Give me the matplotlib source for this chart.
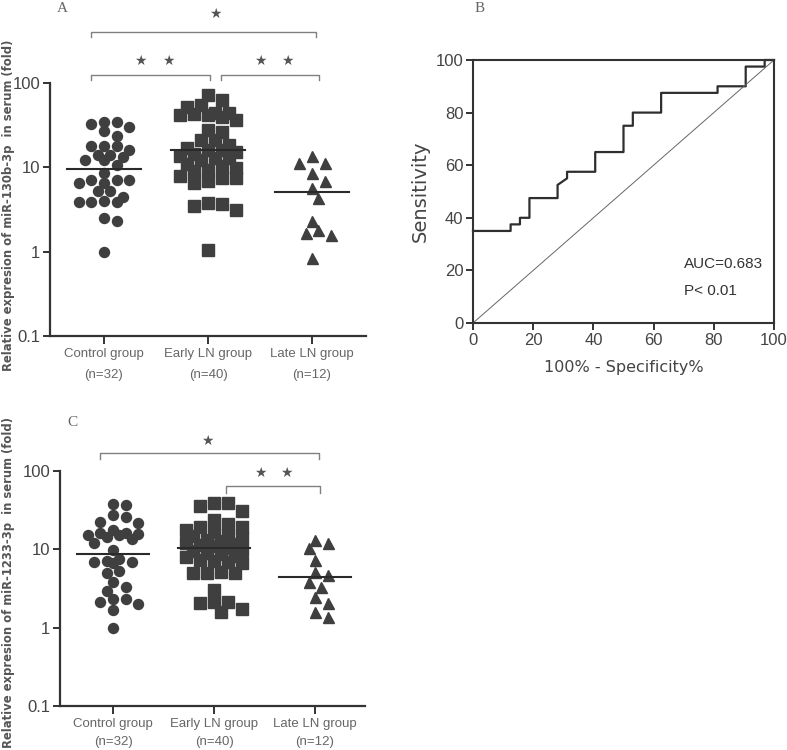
import numpy as np
import matplotlib
matplotlib.use('Agg')
import matplotlib.pyplot as plt
from matplotlib import font_manager
from matplotlib.transforms import blended_transform_factory

# ---- data ----
groups = ['Control group', 'Early LN group', 'Late LN group']
group_n = ['(n=32)', '(n=40)', '(n=12)']

ctrl_130b = [34.7, 34.7, 32.9, 30.3, 26.7, 23.7, 17.7, 17.7, 17.7, 16.2, 14.1, 14.1,
             13.2, 12.3, 12.3, 10.7, 8.5, 7.1, 7.1, 7.1, 6.5, 6.5, 5.2, 5.2,
             4.5, 4.0, 3.9, 3.9, 3.9, 2.5, 2.3, 1.0]
early_130b = [72.6, 63.4, 55.3, 52, 44, 44, 43, 42, 42, 40, 36.7, 27.9, 26.5, 21.3,
              21, 18.5, 17, 16.2, 16, 15, 14.4, 13.5, 13, 13, 12.3, 11, 10.3, 9.8,
              9.4, 9.0, 7.8, 7.5, 7.5, 6.8, 6.5, 3.8, 3.7, 3.5, 3.1, 1.05]
late_130b = [13.5, 11.4, 11.4, 8.5, 6.8, 5.7, 4.3, 2.3, 1.82, 1.66, 1.58, 0.84]
line_130b = [9.5, 16.0, 5.1]

ctrl_1233 = [38.3, 37.0, 27.2, 25.9, 22.4, 21.7, 17.5, 16.2, 16.0, 15.9, 15.1, 15.1,
             14.4, 13.7, 11.9, 9.75, 7.6, 7.2, 6.9, 6.9, 6.7, 5.3, 5.0, 3.85,
             3.3, 2.95, 2.35, 2.29, 2.1, 2.0, 1.67, 0.98]
early_1233 = [39.1, 39.1, 35.8, 30.6, 23.5, 21.3, 19.3, 19.3,
              17.5, 16.8, 15.2, 14.9, 13.8, 13.1, 12.9, 12.2, 11.6, 11.3, 10.9,
              10.4, 9.8, 9.6, 9.1, 8.7, 8.2, 7.9, 7.4, 7.1, 6.9, 6.6,
              5.2, 5.0, 5.0, 5.0, 3.07, 2.14, 2.1, 2.04, 1.75, 1.58]
late_1233 = [13.3, 11.9, 10.4, 7.4, 5.15, 4.7, 3.8, 3.26, 2.47, 2.07, 1.59, 1.35]
line_1233 = [8.8, 10.5, 4.4]

# ROC (100% - specificity, sensitivity)
roc_x = [0, 12.5, 12.5, 15.6, 15.6, 18.75, 18.75, 28.1, 28.1, 31.25, 31.25, 40.6, 40.6,
         50, 50, 53.1, 53.1, 62.5, 62.5, 81.25, 81.25, 90.6, 90.6, 96.9, 96.9, 100]
roc_y = [35, 35, 37.5, 37.5, 40, 40, 47.5, 47.5, 52.5, 55, 57.5, 57.5, 65,
         65, 75, 75, 80, 80, 87.5, 87.5, 90, 90, 97.5, 97.5, 100, 100]
auc_text = 'AUC=0.683'
p_text = 'P< 0.01'

# ---- style ----
names = {f.name for f in font_manager.fontManager.ttflist}
narrow = 'Liberation Sans Narrow' if 'Liberation Sans Narrow' in names else 'Liberation Sans'
mk_col = '#3f3f3f'
ax_col = '#333333'
br_col = '#808080'

fig = plt.figure(figsize=(7.87, 7.5), dpi=100)


def swarm(ax, xc, vals, size_px, h=6.3, kmax=4):
    # greedy beeswarm in pixel space, limited to +-kmax half-columns
    fig.canvas.draw()
    pts = []
    out = []
    cands = [0]
    for k in range(1, kmax + 1):
        cands += [k * h, -k * h]
    for v in sorted(vals, reverse=True):
        px, py = ax.transData.transform((xc, v))
        best, best_d = 0, -1
        for off in cands:
            d = min([np.hypot(px + off - a, py - b) for a, b in pts] + [1e9])
            if d >= size_px * 0.95:
                best = off
                break
            if d > best_d:
                best, best_d = off, d
        pts.append((px + best, py))
        out.append(ax.transData.inverted().transform((px + best, py)))
    return np.array(out)


def dot_panel(rect, xlim, data, lines, ylab, letter, brackets, stars, lsp):
    ax = fig.add_axes(rect)
    ax.set_yscale('log')
    ax.set_ylim(0.1, 100)
    ax.set_xlim(*xlim)
    for s in ['top', 'right']:
        ax.spines[s].set_visible(False)
    for s in ['left', 'bottom']:
        ax.spines[s].set_color(ax_col)
        ax.spines[s].set_linewidth(1.6)
    ax.set_yticks([0.1, 1, 10, 100])
    ax.set_yticklabels(['0.1', '1', '10', '100'])
    ax.minorticks_off()
    ax.tick_params(axis='y', length=5, width=1.4, color=ax_col, labelsize=12,
                   labelcolor='#444444', pad=2)
    ax.set_xticks([0, 1, 2])
    ax.set_xticklabels([g + '\n' + n for g, n in zip(groups, group_n)],
                       linespacing=lsp, fontsize=9.5, color='#666666')
    ax.tick_params(axis='x', length=6, width=1.4, color=ax_col, pad=3)
    for t in ax.get_yticklabels():
        t.set_family([narrow, 'DejaVu Sans'])
    for t in ax.get_xticklabels():
        t.set_family([narrow, 'DejaVu Sans'])

    markers = [('o', 10.0, 6.3), ('s', 11.5, 7.0), ('^', 11.0, 6.3)]
    for i, vals in enumerate(data):
        m, sz, h = markers[i]
        xy = swarm(ax, i, vals, sz, h=h)
        ax.plot(xy[:, 0], xy[:, 1], m, ms=sz * 0.72, color=mk_col, mec=mk_col, ls='none')
        ax.plot([i - 0.36, i + 0.36], [lines[i], lines[i]], color='#2a2a2a', lw=1.5)

    tr = blended_transform_factory(ax.transData, ax.transAxes)
    for x0, x1, y0, y1 in brackets:
        ax.plot([x0, x0, x1, x1], [y1, y0, y0, y1], color=br_col, lw=1.0,
                transform=tr, clip_on=False)
    for x, y in stars:
        ax.text(x, y, '\u2605', transform=tr, ha='center', va='center',
                fontsize=10, color='#555555', family='DejaVu Sans')

    fig.text(rect[0] + 0.009, letter[1], letter[0], family='Liberation Serif',
             fontsize=11, color='#666666', va='center')
    fig.text(0.011, ylab[1], ylab[0], rotation=90, va='center', ha='center',
             fontsize=8.4, fontweight='bold', color='#555555', family='DejaVu Sans')
    return ax


# panel A
dot_panel([50 / 787, 1 - 336 / 750, 316 / 787, 253 / 750], (-0.519, 2.519),
          [ctrl_130b, early_130b, late_130b], line_130b,
          ('Relative expresion of miR-130b-3p  in serum (fold)', 1 - 205 / 750),
          ('A', 1 - 9 / 750),
          [(-0.125, 2.038, 1.2016, 1.1818), (-0.125, 1.019, 1.0316, 1.0119),
           (1.125, 2.067, 1.0316, 1.0119)],
          [(1.067, 1.273), (0.346, 1.087), (0.615, 1.087), (1.5, 1.087), (1.76, 1.087)],
          1.9)

# panel C
dot_panel([60 / 787, 1 - 706 / 750, 305 / 787, 235 / 750], (-0.525, 2.495),
          [ctrl_1233, early_1233, late_1233], line_1233,
          ('Relative expresion of miR-1233-3p  in serum (fold)', 1 - 582 / 750),
          ('C', 1 - 423 / 750),
          [(-0.129, 2.04, 1.0766, 1.051), (1.119, 2.05, 0.936, 0.906)],
          [(0.93, 1.128), (1.455, 0.991), (1.72, 0.991)],
          1.65)

# panel B: ROC
axb = fig.add_axes([473 / 787, 1 - 323 / 750, 301 / 787, 263 / 750])
axb.plot(roc_x, roc_y, color='#2e2e2e', lw=1.6, clip_on=False)
axb.plot([0, 100], [0, 100], color='#666666', lw=0.7)
axb.set_xlim(0, 100)
axb.set_ylim(0, 100)
axb.set_xticks(range(0, 101, 20))
axb.set_yticks(range(0, 101, 20))
for s in axb.spines.values():
    s.set_color(ax_col)
    s.set_linewidth(1.5)
axb.tick_params(length=5, width=1.4, color=ax_col, labelsize=12, labelcolor='#444444', pad=2)
for t in axb.get_xticklabels() + axb.get_yticklabels():
    t.set_family([narrow, 'DejaVu Sans'])
axb.set_xlabel('100% - Specificity%', fontsize=11.5, color='#444444', labelpad=9,
               family='DejaVu Sans')
axb.set_ylabel('Sensitivity', fontsize=14, color='#444444', labelpad=4,
               family='DejaVu Sans')
axb.text(70, 21, auc_text, fontsize=11, color='#333333', family=[narrow, 'DejaVu Sans'])
axb.text(70, 10.5, p_text, fontsize=11, color='#333333', family=[narrow, 'DejaVu Sans'])
fig.text(475 / 787, 1 - 9 / 750, 'B', family='Liberation Serif', fontsize=11,
         color='#666666', va='center')

fig.savefig('out.png', dpi=100)
